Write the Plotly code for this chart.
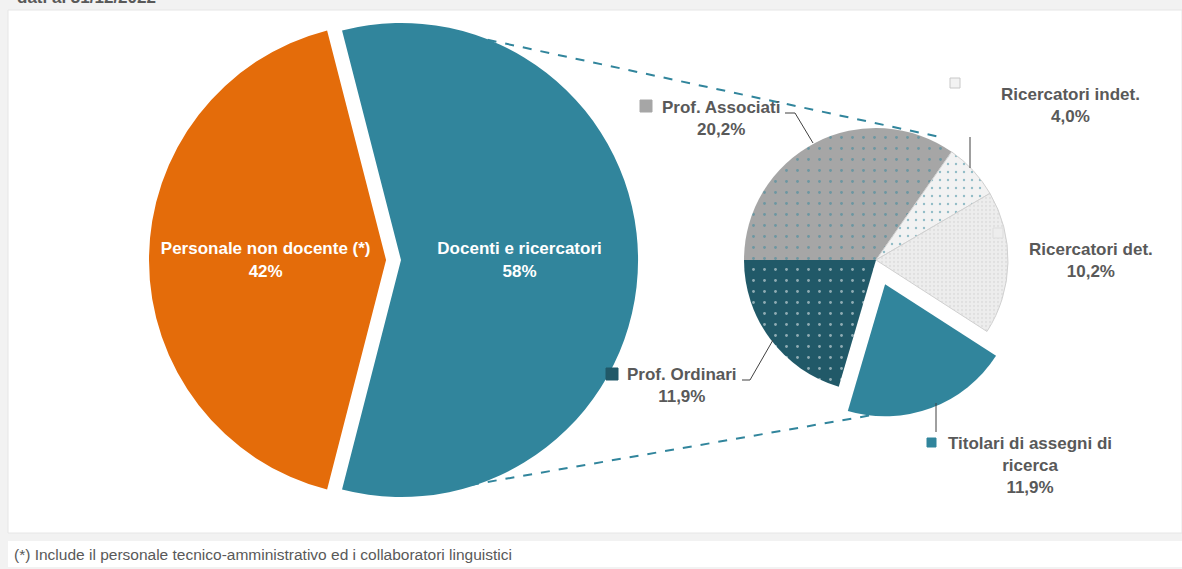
import plotly.graph_objects as go

W, H = 1182, 569

MAIN_LABELS = ["Personale non docente (*)", "Docenti e ricercatori"]
MAIN_VALUES = [42, 58]
MAIN_COLORS = ["#E46C0A", "#31859C"]

SUB_LABELS = ["Prof. Associati", "Ricercatori indet.", "Ricercatori det.",
              "Titolari di assegni di<br>ricerca", "Prof. Ordinari"]
SUB_VALUES = [20.2, 4.0, 10.2, 11.9, 11.9]
SUB_COLORS = ["#A6A6A6", "#F2F2F2", "#EDEDED", "#31859C", "#215968"]

TOP_NOTE = "dati al 31/12/2022"
FOOTNOTE = "(*) Include il personale tecnico-amministrativo ed i collaboratori linguistici"

TEXT = "#595959"
FONT = "Liberation Sans, Arial, sans-serif"


def px(x):
    return x / W


def py(y):
    return 1 - y / H


def pct(v):
    return f"{v:.1f}".replace(".", ",") + "%"


fig = go.Figure()

# big pie: orange pulled out to the left
fig.add_trace(go.Pie(
    labels=MAIN_LABELS,
    values=MAIN_VALUES,
    sort=False,
    direction="clockwise",
    rotation=-165.6,
    pull=[0.063, 0],
    marker=dict(colors=MAIN_COLORS, line=dict(width=0)),
    textinfo="text",
    texttemplate="<b>%{label}</b><br><b>%{percent:.0%}</b>",
    textposition="inside",
    insidetextorientation="horizontal",
    textfont=dict(family=FONT, size=17, color="white"),
    domain=dict(x=[px(149), px(653)], y=[py(512), py(8)]),
    hoverinfo="label+percent",
    showlegend=False,
))

# second pie: breakdown of teaching staff
fig.add_trace(go.Pie(
    labels=[l.replace("<br>", " ") for l in SUB_LABELS],
    values=SUB_VALUES,
    sort=False,
    direction="clockwise",
    rotation=-90,
    pull=[0, 0, 0, 0.197, 0],
    marker=dict(
        colors=SUB_COLORS,
        line=dict(color=["#A6A6A6", "#D0D0D0", "#D0D0D0", "#31859C", "#215968"],
                  width=[0, 1, 1, 0, 0]),
        pattern=dict(
            shape=[".", ".", ".", "", "."],
            fgcolor=["#31859C", "#31859C", "#D2D2D2", "#31859C", "#FFFFFF"],
            bgcolor=SUB_COLORS,
            size=[11, 8, 4, 8, 11],
            solidity=[0.05, 0.07, 0.25, 0, 0.05],
            fillmode="overlay",
        ),
    ),
    textinfo="none",
    domain=dict(x=[px(718), px(1034)], y=[py(418), py(102)]),
    hoverinfo="label+value",
    showlegend=False,
))

shapes = [
    dict(type="rect", xref="paper", yref="paper", x0=px(8), x1=px(W), y0=py(533), y1=py(10),
         fillcolor="white", line=dict(color="#E6E6E6", width=1), layer="below"),
    dict(type="rect", xref="paper", yref="paper", x0=px(8), x1=px(W), y0=py(567), y1=py(541),
         fillcolor="white", line=dict(width=0), layer="below"),
]

# dashed connectors between the two pies
for x0, y0, x1, y1 in [(470, 36, 940, 137), (470, 485, 930, 405)]:
    shapes.append(dict(type="line", xref="paper", yref="paper",
                       x0=px(x0), y0=py(y0), x1=px(x1), y1=py(y1),
                       line=dict(color="#31859C", width=2, dash="dash"), layer="below"))

# leader lines
leaders = [
    [(785, 113), (795, 113), (813, 143)],
    [(970, 137), (970, 168)],
    [(742, 380), (750, 380), (773, 340)],
    [(936, 403), (936, 432)],
]
for pts in leaders:
    for (a, b), (c, d) in zip(pts[:-1], pts[1:]):
        shapes.append(dict(type="line", xref="paper", yref="paper",
                           x0=px(a), y0=py(b), x1=px(c), y1=py(d),
                           line=dict(color="#404040", width=1)))

# label placements: (centre x, centre y, key box)
label_pos = [
    (721, 118, (640, 100, 652, 112)),
    (1070, 105, (950, 78, 960, 88)),
    (1091, 260, (993, 228, 1003, 238)),
    (1030, 465, (927, 438, 936, 447)),
    (682, 385, (606, 368, 618, 380)),
]
key_lines = ["#A6A6A6", "#C8C8C8", "#DDDDDD", "#31859C", "#215968"]

annotations = []
for label, value, color, kline, (cx, cy, box) in zip(SUB_LABELS, SUB_VALUES, SUB_COLORS, key_lines, label_pos):
    annotations.append(dict(
        x=px(cx), y=py(cy), xref="paper", yref="paper", xanchor="center", yanchor="middle",
        text="<br>".join(f"<b>{part}</b>" for part in (label.split("<br>") + [pct(value)])),
        showarrow=False, align="center",
        font=dict(family=FONT, size=17, color=TEXT),
    ))
    shapes.append(dict(type="rect", xref="paper", yref="paper",
                       x0=px(box[0]), x1=px(box[2]), y0=py(box[3]), y1=py(box[1]),
                       fillcolor=color, line=dict(color=kline, width=1)))

annotations.append(dict(
    x=px(15), y=py(9), xref="paper", yref="paper", xanchor="left", yanchor="bottom",
    text=f"<b>{TOP_NOTE}</b>", showarrow=False,
    font=dict(family=FONT, size=17, color=TEXT),
))
annotations.append(dict(
    x=px(12), y=py(554), xref="paper", yref="paper", xanchor="left", yanchor="middle",
    text=FOOTNOTE, showarrow=False,
    font=dict(family="Liberation Sans Narrow, Arial Narrow, Liberation Sans, sans-serif",
              size=15.5, color=TEXT),
))

fig.update_layout(
    width=W,
    height=H,
    margin=dict(l=0, r=0, t=0, b=0),
    paper_bgcolor="#F2F2F2",
    plot_bgcolor="#F2F2F2",
    shapes=shapes,
    annotations=annotations,
    separators=",.",
    showlegend=False,
)

fig.write_html("out.html", config={"displayModeBar": False},
               post_script="document.body.style.margin='0';")
